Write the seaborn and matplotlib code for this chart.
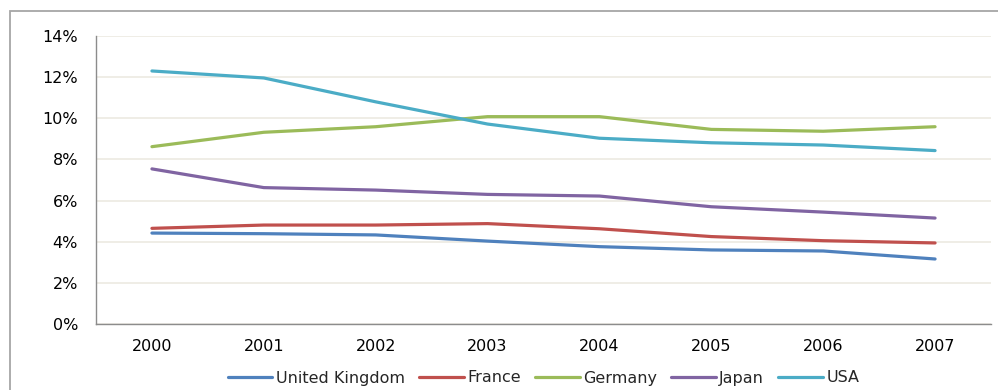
import matplotlib
matplotlib.use("Agg")
import matplotlib.pyplot as plt
from matplotlib.patches import Rectangle
import pandas as pd
import seaborn as sns

years = ["2000", "2001", "2002", "2003", "2004", "2005", "2006", "2007"]
countries = ["United Kingdom", "France", "Germany", "Japan", "USA"]

united_kingdom = [4.42, 4.39, 4.33, 4.03, 3.76, 3.60, 3.55, 3.16]
france = [4.65, 4.81, 4.81, 4.88, 4.63, 4.25, 4.05, 3.94]
germany = [8.62, 9.32, 9.59, 10.08, 10.08, 9.46, 9.37, 9.59]
japan = [7.54, 6.63, 6.51, 6.30, 6.22, 5.70, 5.44, 5.15]
usa = [12.30, 11.96, 10.80, 9.72, 9.03, 8.81, 8.70, 8.43]

y_ticks = [0, 2, 4, 6, 8, 10, 12, 14]
y_tick_labels = ["0%", "2%", "4%", "6%", "8%", "10%", "12%", "14%"]

colors = ["#4F81BD", "#C0504D", "#9BBB59", "#8064A2", "#4BACC6"]

series = [united_kingdom, france, germany, japan, usa]
df = pd.DataFrame(
    [(y, c, v) for c, vals in zip(countries, series) for y, v in zip(years, vals)],
    columns=["year", "country", "value"],
)

sns.set_theme(style="white")
plt.rcParams["font.family"] = ["DejaVu Sans"]

fig = plt.figure(figsize=(9.98, 3.90), dpi=100)
ax = fig.add_axes([96 / 998, 66 / 390, (991 - 96) / 998, (324 - 36) / 390])

sns.lineplot(
    data=df, x="year", y="value", hue="country", hue_order=countries,
    palette=colors, linewidth=2.3, sort=False, ax=ax, legend=True,
)

ax.set_xlim(-0.5, len(years) - 0.5)
ax.set_ylim(0, 14)
ax.set_yticks(y_ticks)
ax.set_yticklabels(y_tick_labels)
ax.set_xlabel("")
ax.set_ylabel("")
ax.grid(axis="y", color="#ECEAE2", linewidth=1.2)
ax.grid(axis="x", visible=False)
ax.set_axisbelow(True)
for side in ("top", "right"):
    ax.spines[side].set_visible(False)
for side in ("left", "bottom"):
    ax.spines[side].set_color("#8C8C8C")
    ax.spines[side].set_linewidth(1.0)
ax.tick_params(axis="both", length=0, labelsize=11.5, colors="#000000")
ax.tick_params(axis="y", pad=13)
ax.tick_params(axis="x", pad=11)

handles, labels = ax.get_legend_handles_labels()
ax.legend(
    handles, labels, loc="center", bbox_to_anchor=(0.5, (324 - 378) / 288),
    ncol=5, frameon=False, fontsize=11.5, handlelength=2.8, handletextpad=0.2,
    columnspacing=0.9, borderaxespad=0,
)
for line in ax.get_legend().get_lines():
    line.set_linewidth(2.3)

# outer chart frame
fig.add_artist(Rectangle((10 / 998, -0.1), 1.2, (390 - 11) / 390 + 0.1,
                         transform=fig.transFigure, fill=False,
                         edgecolor="#A6A6A6", linewidth=1.3))

fig.savefig("out.png", dpi=100)
